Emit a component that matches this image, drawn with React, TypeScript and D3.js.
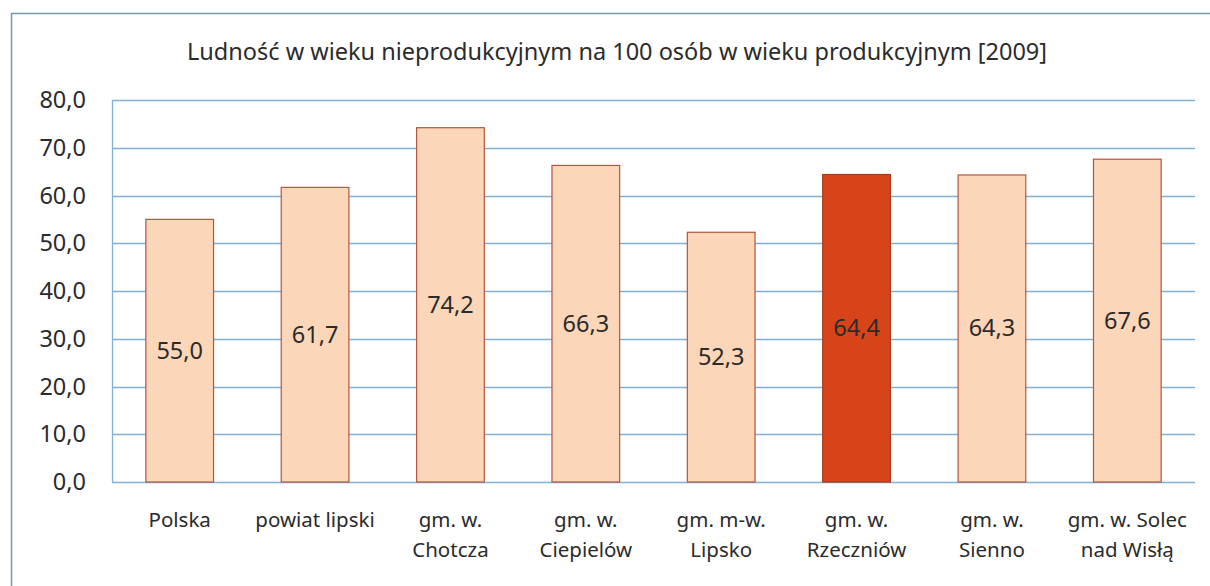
import { useEffect, useRef } from 'react';
import * as d3 from 'd3';

const categories = [
  ['Polska'],
  ['powiat lipski'],
  ['gm. w.', 'Chotcza'],
  ['gm. w.', 'Ciepielów'],
  ['gm. m-w.', 'Lipsko'],
  ['gm. w.', 'Rzeczniów'],
  ['gm. w.', 'Sienno'],
  ['gm. w. Solec', 'nad Wisłą'],
];
const values = [55.0, 61.7, 74.2, 66.3, 52.3, 64.4, 64.3, 67.6];
const highlighted = [false, false, false, false, false, true, false, false];
const yTicks = [0, 10, 20, 30, 40, 50, 60, 70, 80];
const title = 'Ludność w wieku nieprodukcyjnym na 100 osób w wieku produkcyjnym [2009]';

const W = 1210;
const H = 586;

const App = () => {
  const ref = useRef<SVGSVGElement>(null);

  useEffect(() => {
    document.body.style.margin = '0';
    const svg = d3.select(ref.current);
    svg.selectAll('*').remove();

    const margin = { top: 100, right: 15, bottom: 104, left: 112 };
    const innerW = W - margin.left - margin.right;
    const innerH = H - margin.top - margin.bottom;
    const font = 'Noto Sans, sans-serif';
    const textCol = '#2b2b2b';

    svg.append('rect').attr('width', W).attr('height', H).attr('fill', '#fff');
    // outer frame
    svg.append('rect')
      .attr('x', 11.5).attr('y', 13.5)
      .attr('width', W + 20).attr('height', H + 20)
      .attr('fill', 'none').attr('stroke', '#6f9aa8').attr('stroke-width', 1.5);

    svg.append('text').text(title)
      .attr('x', 617).attr('y', 60)
      .attr('text-anchor', 'middle')
      .attr('font-family', font).attr('font-size', 23.5)
      .attr('fill', textCol);

    const x = d3.scaleBand<number>()
      .domain(values.map((_, i) => i))
      .range([0, innerW])
      .paddingInner(0.5).paddingOuter(0.25);
    const y = d3.scaleLinear().domain([0, 80]).range([innerH, 0]);

    const g = svg.append('g').attr('transform', `translate(${margin.left},${margin.top})`);

    // gridlines
    g.selectAll('line.grid').data(yTicks).enter().append('line')
      .attr('x1', 0).attr('x2', innerW)
      .attr('y1', d => Math.round(y(d)) + 0.5).attr('y2', d => Math.round(y(d)) + 0.5)
      .attr('stroke', '#7fb0d8').attr('stroke-width', 1.3);
    g.append('line')
      .attr('x1', 0.5).attr('x2', 0.5).attr('y1', 0).attr('y2', innerH)
      .attr('stroke', '#7fb0d8').attr('stroke-width', 1.3);

    const yAxis = g.append('g').call(d3.axisLeft(y).tickValues(yTicks).tickSize(0).tickPadding(26)
      .tickFormat(d => d3.format('.1f')(d as number).replace('.', ',')));
    yAxis.select('.domain').remove();
    yAxis.selectAll('text').attr('font-family', font).attr('font-size', 23.5).attr('fill', textCol);

    g.selectAll('rect.bar').data(values).enter().append('rect')
      .attr('x', (_, i) => x(i)!)
      .attr('y', d => y(d))
      .attr('width', x.bandwidth())
      .attr('height', d => innerH - y(d))
      .attr('fill', (_, i) => highlighted[i] ? '#d8441a' : '#fbd6b8')
      .attr('stroke', (_, i) => highlighted[i] ? '#a8391c' : '#b4553f')
      .attr('stroke-width', 1.2);

    g.selectAll('text.val').data(values).enter().append('text')
      .text(d => d3.format('.1f')(d).replace('.', ','))
      .attr('x', (_, i) => x(i)! + x.bandwidth() / 2)
      .attr('y', d => (y(d) + innerH) / 2 + 8)
      .attr('text-anchor', 'middle')
      .attr('font-family', font).attr('font-size', 23.5)
      .attr('fill', textCol);

    const labels = g.selectAll('text.cat').data(categories).enter().append('text')
      .attr('x', (_, i) => x(i)! + x.bandwidth() / 2)
      .attr('y', innerH + 45)
      .attr('text-anchor', 'middle')
      .attr('font-family', font).attr('font-size', 20.5)
      .attr('fill', textCol);
    labels.selectAll('tspan').data(d => d).enter().append('tspan')
      .attr('x', function () { return (this.parentNode as SVGTextElement).getAttribute('x'); })
      .attr('dy', (_, j) => j === 0 ? 0 : 30)
      .text(d => d);
  }, []);

  return <svg ref={ref} width={W} height={H} style={{ display: 'block' }} />;
};

export default App;
